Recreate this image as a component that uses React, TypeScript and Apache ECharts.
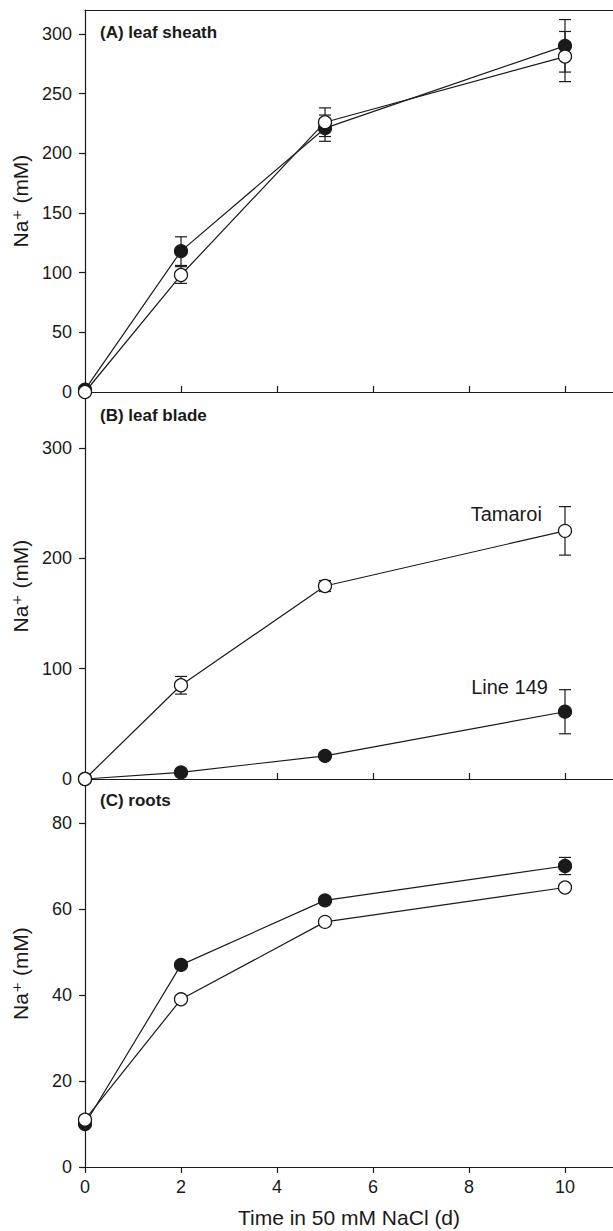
import React, { useEffect, useRef } from "react";
import * as echarts from "echarts";

const days = [0, 2, 5, 10];
const sheathLine149 = [2, 118, 221, 290];
const sheathLine149Err = [0, 12, 11, 22];
const sheathTamaroi = [0, 98, 226, 281];
const sheathTamaroiErr = [0, 7, 12, 21];
const bladeLine149 = [0, 6, 21, 61];
const bladeLine149Err = [0, 0, 0, 20];
const bladeTamaroi = [0, 85, 175, 225];
const bladeTamaroiErr = [0, 8, 5, 22];
const rootsLine149 = [10, 47, 62, 70];
const rootsLine149Err = [0, 0, 0, 2];
const rootsTamaroi = [11, 39, 57, 65];
const rootsTamaroiErr = [0, 0, 0, 0];
const xTicks = [0, 2, 4, 6, 8, 10];
const sheathTicks = [0, 50, 100, 150, 200, 250, 300];
const bladeTicks = [0, 100, 200, 300];
const rootsTicks = [0, 20, 40, 60, 80];
const panelTitles = ["(A) leaf sheath", "(B) leaf blade", "(C) roots"];
const seriesNames = ["Line 149", "Tamaroi"];
const yTitle = "Na\u207A (mM)";
const xTitle = "Time in 50 mM NaCl (d)";

const INK = "#1a1a1a";
const FONT = "'Liberation Sans', Arial, 'DejaVu Sans', sans-serif";

export default function App() {
  const ref = useRef<HTMLDivElement>(null);
  useEffect(() => {
    if (!ref.current) return;
    const chart = echarts.init(ref.current, undefined, { renderer: "svg" });

    const errRender = (params: any, api: any) => {
      const x = api.value(0);
      const pLo = api.coord([x, api.value(1)]);
      const pHi = api.coord([x, api.value(2)]);
      const w = 6;
      const style = { stroke: INK, lineWidth: 1.2 };
      return {
        type: "group",
        children: [
          { type: "line", shape: { x1: pLo[0], y1: pLo[1], x2: pHi[0], y2: pHi[1] }, style },
          { type: "line", shape: { x1: pLo[0] - w, y1: pLo[1], x2: pLo[0] + w, y2: pLo[1] }, style },
          { type: "line", shape: { x1: pHi[0] - w, y1: pHi[1], x2: pHi[0] + w, y2: pHi[1] }, style },
        ],
      };
    };

    const errData = (vals: number[], errs: number[]) =>
      days
        .map((d, i) => [d, vals[i] - errs[i], vals[i] + errs[i], errs[i]])
        .filter((r) => r[3] > 0);

    const pts = (vals: number[]) => days.map((d, i) => [d, vals[i]]);

    const panels = [
      { filled: sheathLine149, fErr: sheathLine149Err, open: sheathTamaroi, oErr: sheathTamaroiErr },
      { filled: bladeLine149, fErr: bladeLine149Err, open: bladeTamaroi, oErr: bladeTamaroiErr },
      { filled: rootsLine149, fErr: rootsLine149Err, open: rootsTamaroi, oErr: rootsTamaroiErr },
    ];

    const series: any[] = [];
    panels.forEach((p, gi) => {
      series.push({
        type: "custom",
        xAxisIndex: gi,
        yAxisIndex: gi,
        renderItem: errRender,
        data: errData(p.filled, p.fErr),
        z: 1,
        silent: true,
      });
      series.push({
        type: "custom",
        xAxisIndex: gi,
        yAxisIndex: gi,
        renderItem: errRender,
        data: errData(p.open, p.oErr),
        z: 1,
        silent: true,
      });
      const filledData: any[] = pts(p.filled);
      const openData: any[] = pts(p.open);
      if (gi === 1) {
        filledData[3] = {
          value: filledData[3],
          label: {
            show: true,
            formatter: seriesNames[0],
            position: "left",
            distance: 10,
            offset: [0, -25],
            fontFamily: FONT,
            fontSize: 20,
            color: INK,
          },
        };
        openData[3] = {
          value: openData[3],
          label: {
            show: true,
            formatter: seriesNames[1],
            position: "left",
            distance: 16,
            offset: [0, -17],
            fontFamily: FONT,
            fontSize: 20,
            color: INK,
          },
        };
      }
      series.push({
        name: seriesNames[0],
        type: "line",
        xAxisIndex: gi,
        yAxisIndex: gi,
        data: filledData,
        symbol: "circle",
        symbolSize: 13,
        showAllSymbol: true,
        clip: false,
        lineStyle: { color: INK, width: 1.2 },
        itemStyle: { color: INK, borderColor: INK, borderWidth: 1.2 },
        z: 2,
      });
      series.push({
        name: seriesNames[1],
        type: "line",
        xAxisIndex: gi,
        yAxisIndex: gi,
        data: openData,
        symbol: "circle",
        symbolSize: 13,
        showAllSymbol: true,
        clip: false,
        lineStyle: { color: INK, width: 1.2 },
        itemStyle: { color: "#ffffff", borderColor: INK, borderWidth: 1.3 },
        z: 3,
      });
    });

    const grids = [
      { left: 85, top: 10, width: 532, height: 382 },
      { left: 85, top: 393, width: 532, height: 386 },
      { left: 85, top: 780, width: 532, height: 387 },
    ];

    const mkX = (gi: number, inside: boolean, labels: boolean) => ({
      type: "value",
      gridIndex: gi,
      min: 0,
      max: 11,
      axisLine: { show: true, lineStyle: { color: INK, width: 1.2 } },
      axisTick: {
        show: true,
        inside,
        length: 6,
        customValues: xTicks,
        lineStyle: { color: INK, width: 1.2 },
      },
      axisLabel: {
        show: labels,
        customValues: xTicks,
        margin: 11,
        fontFamily: FONT,
        fontSize: 18,
        color: INK,
      },
      splitLine: { show: false },
      name: labels ? xTitle : "",
      nameLocation: "middle",
      nameGap: 40,
      nameTextStyle: { fontFamily: FONT, fontSize: 21, color: INK },
    });

    const mkY = (gi: number, max: number, ticks: number[]) => ({
      type: "value",
      gridIndex: gi,
      min: 0,
      max,
      axisLine: { show: true, lineStyle: { color: INK, width: 1.2 } },
      axisTick: {
        show: true,
        inside: false,
        length: 6,
        customValues: ticks,
        lineStyle: { color: INK, width: 1.2 },
      },
      axisLabel: {
        customValues: ticks,
        margin: 13,
        fontFamily: FONT,
        fontSize: 18,
        color: INK,
      },
      splitLine: { show: false },
      name: yTitle,
      nameLocation: "middle",
      nameRotate: 90,
      nameGap: 54,
      nameTextStyle: { fontFamily: FONT, fontSize: 21, color: INK },
    });

    const xAxes: any[] = [mkX(0, true, false), mkX(1, true, false), mkX(2, false, true)];
    xAxes.push({
      type: "value",
      gridIndex: 0,
      position: "top",
      min: 0,
      max: 11,
      axisLine: { show: true, lineStyle: { color: INK, width: 1.2 } },
      axisTick: { show: false },
      axisLabel: { show: false },
      splitLine: { show: false },
    });

    const titleY = [34, 417, 802];
    const graphic = panelTitles.map((t, i) => ({
      type: "text",
      left: 100,
      top: titleY[i] - 10,
      style: {
        text: t,
        fontFamily: FONT,
        fontSize: 17,
        fontWeight: "bold",
        fill: INK,
      },
    }));

    chart.setOption({
      animation: false,
      backgroundColor: "#ffffff",
      grid: grids,
      xAxis: xAxes,
      yAxis: [mkY(0, 320, sheathTicks), mkY(1, 350, bladeTicks), mkY(2, 90, rootsTicks)],
      series,
      graphic,
    });

    return () => chart.dispose();
  }, []);

  return (
    <div
      ref={ref}
      style={{ position: "absolute", left: 0, top: 0, width: 613, height: 1231 }}
    />
  );
}
